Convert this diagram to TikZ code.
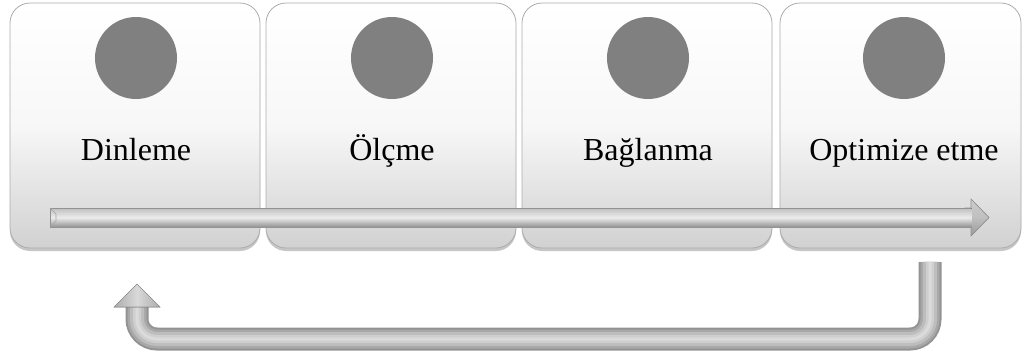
\documentclass[tikz,border=0pt]{standalone}
\usepackage{fontspec}
\setmainfont{Liberation Serif}
\usetikzlibrary{shadows}
\begin{document}
\begin{tikzpicture}[x=1pt,y=-1pt,
  stepbox/.style={rectangle, rounded corners=20pt, draw=gray!65, line width=0.8pt,
    top color=white, bottom color=gray!36, middle color=white!97!black,
    minimum height=245pt, inner sep=0pt,
    drop shadow={opacity=0.45, shadow xshift=0pt, shadow yshift=-3pt}},
  dot/.style={circle, fill=gray, minimum size=82pt, inner sep=0pt},
  lbl/.style={anchor=base, font=\fontsize{32}{38}\selectfont, inner sep=0pt}
]
\useasboundingbox (0,0) rectangle (1023,359);
% boxes
\node[stepbox, minimum width=250pt] (b1) at (135,125.5) {};
\node[stepbox, minimum width=250pt] (b2) at (391,125.5) {};
\node[stepbox, minimum width=250pt] (b3) at (647,125.5) {};
\node[stepbox, minimum width=241pt] (b4) at (900.5,125.5) {};
% circles
\node[dot] (c1) at (136,58) {};
\node[dot] (c2) at (392,58) {};
\node[dot] (c3) at (648,58) {};
\node[dot] (c4) at (904,58) {};
% labels
\node[lbl] (t1) at (136,160) {Dinleme};
\node[lbl] (t2) at (392,160) {Ölçme};
\node[lbl] (t3) at (648,160) {Bağlanma};
\node[lbl] (t4) at (904,160) {Optimize etme};
% horizontal arrow
\coordinate (hs) at (50,217.5);
\coordinate (ht) at (989,217.5);
\filldraw[draw=gray!85, line width=0.6pt, top color=gray!40, bottom color=gray!80, middle color=gray!50]
  (965,208) -- (971,208) -- (971,199) -- (ht) -- (971,236) -- (971,227) -- (965,227) -- cycle;
\fill[top color=gray!50, bottom color=gray!85, middle color=gray!15]
  (50,208) rectangle (971.5,227);
\draw[gray!85, line width=0.6pt] (971,208) -- (50,208) -- (50,227) -- (971,227);
\draw[gray!70, line width=0.6pt] (50,208) -- (56,214) -- (56,221) -- (50,227);
% return arrow
\coordinate (rs) at (930,262);
\coordinate (rb) at (930,339);
\coordinate (lb) at (137,339);
\coordinate (le) at (137,307);
\coordinate (rt) at (137,284);
\draw[line width=23pt, gray!85, rounded corners=20pt] (rs) -- (rb) -- (lb) -- ([yshift=1pt]le);
\draw[line width=19pt, gray!68, rounded corners=20pt] ([yshift=0.1pt]rs) -- (rb) -- (lb) -- ([yshift=1pt]le);
\draw[line width=14pt, gray!52, rounded corners=20pt] ([yshift=0.1pt]rs) -- (rb) -- (lb) -- ([yshift=1pt]le);
\draw[line width=8pt, gray!38, rounded corners=20pt] ([yshift=0.1pt]rs) -- (rb) -- (lb) -- ([yshift=1pt]le);
\draw[line width=3pt, gray!28, rounded corners=20pt] ([yshift=0.1pt]rs) -- (rb) -- (lb) -- ([yshift=1pt]le);
\filldraw[draw=gray!85, line width=0.6pt, left color=gray!65, right color=gray!65, middle color=gray!30]
  (114,307) -- (rt) -- (160,307) -- cycle;
\end{tikzpicture}
\end{document}
